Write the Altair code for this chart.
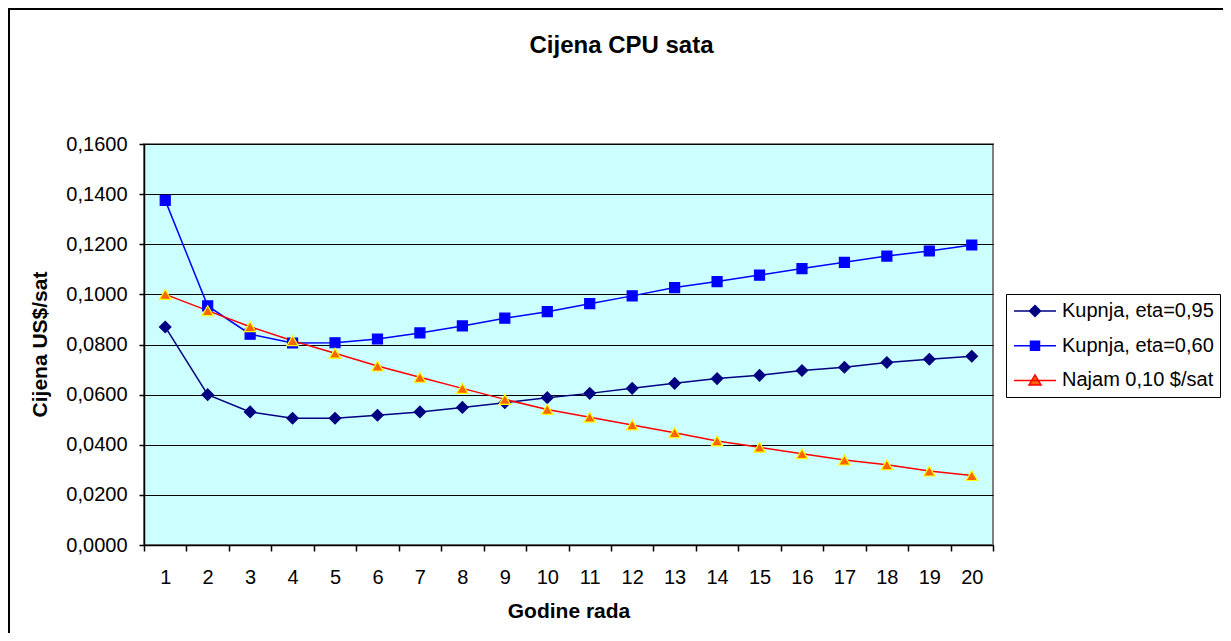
import altair as alt
import pandas as pd

years = list(range(1, 21))
series_names = ["Kupnja, eta=0,95", "Kupnja, eta=0,60", "Najam 0,10 $/sat"]
kupnja_095 = [0.0870, 0.0600, 0.0531, 0.0506, 0.0506, 0.0518, 0.0531, 0.0549, 0.0568, 0.0588,
              0.0605, 0.0625, 0.0645, 0.0664, 0.0677, 0.0696, 0.0709, 0.0728, 0.0741, 0.0753]
kupnja_060 = [0.1375, 0.0954, 0.0841, 0.0806, 0.0807, 0.0822, 0.0846, 0.0874, 0.0905, 0.0931,
              0.0963, 0.0994, 0.1027, 0.1051, 0.1077, 0.1103, 0.1128, 0.1153, 0.1173, 0.1197]
najam = [0.1000, 0.0935, 0.0871, 0.0815, 0.0765, 0.0714, 0.0669, 0.0625, 0.0581, 0.0541,
         0.0510, 0.0479, 0.0448, 0.0415, 0.0390, 0.0364, 0.0339, 0.0320, 0.0295, 0.0277]
y_ticks = [0, 0.02, 0.04, 0.06, 0.08, 0.10, 0.12, 0.14, 0.16]

line_colors = ["#000080", "#0000FF", "#FF0000"]
marker_fill = ["#000080", "#0000FF", "#FF6600"]
marker_stroke = ["#000080", "#0000FF", "#FFFF00"]
marker_shapes = ["diamond", "square", "triangle-up"]
marker_sizes = [130, 100, 130]

rows = []
for name, vals in zip(series_names, [kupnja_095, kupnja_060, najam]):
    for yr, v in zip(years, vals):
        rows.append({"godina": yr, "cijena": v, "serija": name})
df = pd.DataFrame(rows)

FONT = "Liberation Sans"

x_enc = alt.X("godina:O", title="Godine rada",
              scale=alt.Scale(type="band", paddingInner=0, paddingOuter=0),
              axis=alt.Axis(labelAngle=0, tickBand="extent", grid=False,
                            tickSize=6, tickWidth=1.5, tickColor="black",
                            domainColor="black", domainWidth=1.5,
                            labelFontSize=20, labelFont=FONT, labelColor="black",
                            labelPadding=16,
                            titleFontSize=21, titleFont=FONT, titleFontWeight="bold",
                            titleColor="black", titlePadding=13))
y_enc = alt.Y("cijena:Q", title="Cijena US$/sat",
              scale=alt.Scale(domain=[0, 0.16], nice=False),
              axis=alt.Axis(values=y_ticks,
                            labelExpr="replace(format(datum.value, '.4f'), '.', ',')",
                            grid=True, gridColor="black", gridWidth=1.2,
                            tickSize=5, tickWidth=1.5, tickColor="black",
                            domainColor="black", domainWidth=1.5,
                            labelFontSize=20, labelFont=FONT, labelColor="black",
                            labelPadding=12,
                            titleFontSize=21, titleFont=FONT, titleFontWeight="bold",
                            titleColor="black", titleX=-94, titleY=200))

# legend symbols: line segment with marker in the middle
legend_paths = [
    "M-2.1,0H2.1M0,-0.55L0.55,0L0,0.55L-0.55,0Z",
    "M-2.1,0H2.1M-0.45,-0.45H0.45V0.45H-0.45Z",
    "M-2.1,0H2.1M0,-0.55L0.6,0.45L-0.6,0.45Z",
]

legend = alt.Legend(
    title=None, orient="none", legendX=862, legendY=150,
    labelFontSize=20, labelFont=FONT, labelColor="black", labelLimit=400,
    symbolSize=400, symbolStrokeWidth=1.5, symbolOffset=12, labelOffset=16,
    symbolOpacity=1,
    rowPadding=13.7, padding=6, strokeColor="black", fillColor="white",
)

base = alt.Chart(df)

stroke_enc = alt.Stroke("serija:N", scale=alt.Scale(domain=series_names, range=line_colors),
                        legend=legend)

lines = base.mark_line(strokeWidth=1.5).encode(x=x_enc, y=y_enc, stroke=stroke_enc)

point_layers = []
for name, shp, fl, st, sz in zip(series_names, marker_shapes, marker_fill, marker_stroke, marker_sizes):
    point_layers.append(
        base.transform_filter(alt.datum.serija == name)
        .mark_point(filled=True, shape=shp, fill=fl, stroke=st, size=sz,
                    strokeWidth=1.2, opacity=1)
        .encode(x="godina:O", y="cijena:Q")
    )

legend_layer = base.transform_filter("false").mark_point(filled=True).encode(
    x="godina:O", y="cijena:Q",
    shape=alt.Shape("serija:N", scale=alt.Scale(domain=series_names, range=legend_paths), legend=legend),
    fill=alt.Fill("serija:N", scale=alt.Scale(domain=series_names, range=marker_fill), legend=legend),
    stroke=stroke_enc,
)

frame = alt.Chart(alt.Data(values=[{}])).mark_rect(
    filled=False, stroke="black", strokeWidth=2, clip=False
).encode(x=alt.value(-135), y=alt.value(-135), x2=alt.value(1300), y2=alt.value(700))

chart = alt.layer(frame, lines, *point_layers, legend_layer).properties(
    width=849, height=401,
    padding={"left": 136, "top": 136, "right": 230, "bottom": 88},
    autosize=alt.AutoSizeParams(type="none"),
    title=alt.TitleParams("Cijena CPU sata", fontSize=24, font=FONT, fontWeight="bold",
                          color="black", anchor="middle", frame="group", dx=53, offset=-69,
                          baseline="alphabetic"),
).configure(background="white").configure_view(fill="#CCFFFF", stroke="#808080", strokeWidth=2)

chart.save("out.html", embed_options={"renderer": "svg", "actions": False})
